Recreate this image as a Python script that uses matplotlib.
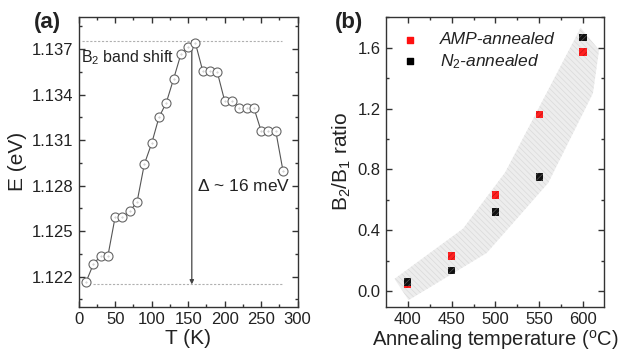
import numpy as np
import matplotlib
matplotlib.use("Agg")
import matplotlib.pyplot as plt
from matplotlib.ticker import MultipleLocator

plt.rcParams["font.family"] = ["Liberation Sans", "DejaVu Sans"]
plt.rcParams["mathtext.fontset"] = "custom"
plt.rcParams["mathtext.rm"] = "Liberation Sans"
plt.rcParams["mathtext.it"] = "Liberation Sans:italic"
plt.rcParams["hatch.linewidth"] = 0.5

# panel (a): B2 band energy vs temperature
T = [10, 20, 30, 40, 50, 60, 70, 80, 90, 100, 110, 120, 130, 140,
     150, 160, 170, 180, 190, 200, 210, 220, 230, 240, 250, 260, 270, 280]
E = [1.12164, 1.12281, 1.12336, 1.12336, 1.12594, 1.12594, 1.12630, 1.12693,
     1.12942, 1.13078, 1.13250, 1.13346, 1.13502, 1.13665, 1.13715, 1.13738,
     1.13555, 1.13555, 1.13546, 1.13359, 1.13359, 1.13313, 1.13313, 1.13313,
     1.13160, 1.13160, 1.13160, 1.12896]
E_max = 1.13755
E_min = 1.12149
T_arrow = 155

# panel (b): B2/B1 ratio vs annealing temperature
anneal_T = [400, 450, 500, 550, 600]
ratio_amp = [0.045, 0.23, 0.632, 1.162, 1.570]
ratio_n2 = [0.06, 0.134, 0.518, 0.748, 1.667]
band_x = [385, 401, 490, 560, 611, 618, 597, 511, 463]
band_y = [0.08, -0.06, 0.25, 0.71, 1.30, 1.585, 1.732, 0.78, 0.41]

fig = plt.figure(figsize=(6.22, 3.53), dpi=100)
ax1 = fig.add_axes([0.1265, 0.1312, 0.352, 0.8215])
ax2 = fig.add_axes([0.6206, 0.1312, 0.351, 0.8215])

txt = "#222222"

for ax in (ax1, ax2):
    for s in ax.spines.values():
        s.set_color("#333333")
        s.set_linewidth(1.0)
    ax.tick_params(which="both", direction="in", top=True, right=True,
                   colors="#333333", labelcolor=txt, labelsize=12)
    ax.tick_params(which="major", length=4, width=1, pad=4)
    ax.tick_params(which="minor", length=2.5, width=1)

# ---- (a)
ax1.plot(T, E, "-", color="#555555", lw=0.8, zorder=2)
ax1.plot(T, E, "o", ms=6.5, mfc="white", mec="#666666", mew=0.8, zorder=3)
ax1.plot(T, E, ".", ms=0.8, color="#bbbbbb", zorder=4)
ax1.hlines(E_max, 5, 279, colors="#b0b0b0", linestyles=(0, (2, 1.5)), lw=0.8, zorder=1)
ax1.hlines(E_min, 20, 278, colors="#b0b0b0", linestyles=(0, (2, 1.5)), lw=0.8, zorder=1)
ax1.annotate("", xy=(T_arrow, E_min), xytext=(T_arrow, E_max),
             arrowprops=dict(arrowstyle="-|>", color="#444444", lw=0.9,
                             mutation_scale=6, shrinkA=0, shrinkB=0), zorder=2)
ax1.text(3, 1.1364, r"B$_2$ band shift", fontsize=11.5, color=txt, va="center", ha="left")
ax1.text(162, 1.1280, r"$\Delta$ ~ 16 meV", fontsize=12.5, color=txt, va="center", ha="left")
ax1.set_xlim(0, 300)
ax1.set_ylim(1.12002, 1.13913)
ax1.xaxis.set_major_locator(MultipleLocator(50))
ax1.xaxis.set_minor_locator(MultipleLocator(25))
ax1.yaxis.set_major_locator(MultipleLocator(0.003))
ax1.yaxis.set_minor_locator(MultipleLocator(0.0015))
ax1.yaxis.set_major_formatter(matplotlib.ticker.FormatStrFormatter("%.3f"))
ax1.set_xlabel("T (K)", fontsize=15, color=txt, labelpad=1.5)
ax1.set_ylabel("E (eV)", fontsize=15, color=txt, labelpad=3)

# ---- (b)
ax2.fill(band_x, band_y, facecolor="#ededed", edgecolor="#dadada", hatch="\\\\\\\\\\\\",
         lw=0, zorder=1)
ax2.scatter(anneal_T, ratio_amp, marker="s", s=30, facecolor="#ff2020",
            edgecolor="#c01515", hatch="//////", lw=0, zorder=3)
ax2.scatter(anneal_T, ratio_n2, marker="s", s=30, facecolor="#111111",
            edgecolor="#555555", hatch="//////", lw=0, zorder=4)
ax2.scatter([], [], marker="s", s=22, color="#ff1010", label="AMP-annealed")
ax2.scatter([], [], marker="s", s=22, color="#000000", label=r"$N_2$-annealed")
leg = ax2.legend(loc="upper left", frameon=False, handlelength=1.0, handletextpad=1.2,
                 borderaxespad=0.5, labelspacing=0.25, borderpad=0.4,
                 prop={"style": "italic", "size": 12.5})
for t in leg.get_texts():
    t.set_color(txt)
ax2.set_xlim(375.3, 624)
ax2.set_ylim(-0.103, 1.804)
ax2.xaxis.set_major_locator(MultipleLocator(50))
ax2.xaxis.set_minor_locator(MultipleLocator(25))
ax2.yaxis.set_major_locator(MultipleLocator(0.4))
ax2.yaxis.set_minor_locator(MultipleLocator(0.2))
ax2.set_xlabel(r"Annealing temperature ($^{\rm o}$C)", fontsize=14.5, color=txt, labelpad=0.5)
ax2.set_ylabel(r"B$_2$/B$_1$ ratio", fontsize=15, color=txt, labelpad=3)

fig.text(0.054, 0.935, "(a)", fontsize=16, fontweight="bold", color=txt, va="center")
fig.text(0.538, 0.935, "(b)", fontsize=16, fontweight="bold", color=txt, va="center")

fig.savefig("out.png", dpi=100)
